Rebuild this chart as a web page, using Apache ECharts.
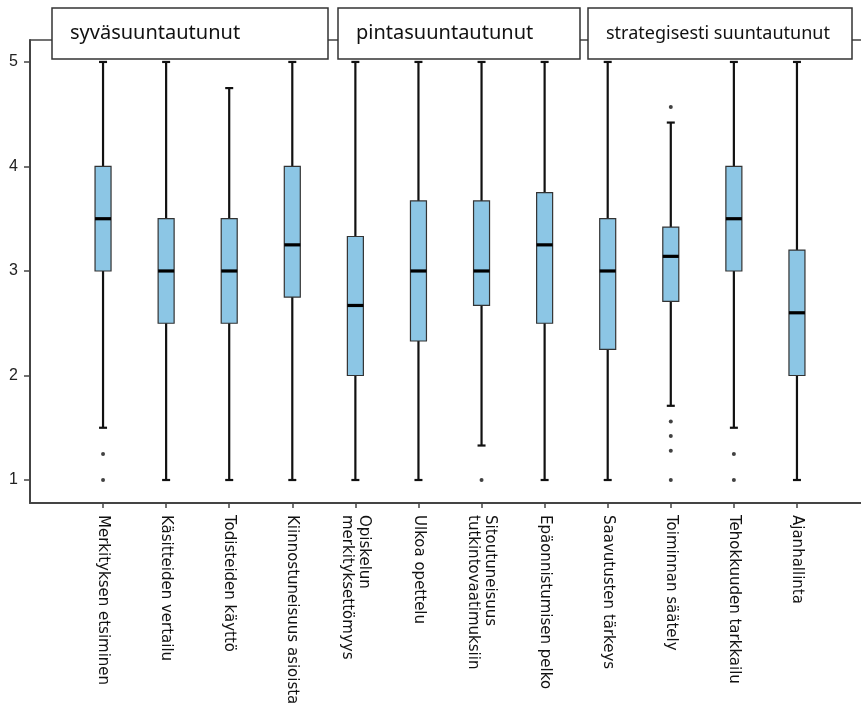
<!DOCTYPE html>
<html>
<head>
<meta charset="utf-8">
<script src="https://cdn.jsdelivr.net/npm/echarts@6/dist/echarts.min.js"></script>
<style>
  html, body { margin: 0; padding: 0; background: #fff; }
  #main { width: 861px; height: 723px; }
</style>
</head>
<body>
<div id="main"></div>
<script>
var categories = [
    'Merkityksen etsiminen',
    'Käsitteiden vertailu',
    'Todisteiden käyttö',
    'Kiinnostuneisuus asioista',
    'Opiskelun\nmerkityksettömyys',
    'Ulkoa opettelu',
    'Sitoutuneisuus\ntutkintovaatimuksiin',
    'Epäonnistumisen pelko',
    'Saavutusten tärkeys',
    'Toiminnan säätely',
    'Tehokkuuden tarkkailu',
    'Ajanhallinta'
];
var whiskerLow  = [1.5, 1,   1,    1,    1,    1,    1.33, 1,    1,    1.71, 1.5, 1];
var q1          = [3,   2.5, 2.5,  2.75, 2,    2.33, 2.67, 2.5,  2.25, 2.71, 3,   2];
var median      = [3.5, 3,   3,    3.25, 2.67, 3,    3,    3.25, 3,    3.14, 3.5, 2.6];
var q3          = [4,   3.5, 3.5,  4,    3.33, 3.67, 3.67, 3.75, 3.5,  3.42, 4,   3.2];
var whiskerHigh = [5,   5,   4.75, 5,    5,    5,    5,    5,    5,    4.42, 5,   5];
// [category index, value]
var outliers = [
    [0, 1.25], [0, 1],
    [6, 1],
    [9, 4.57], [9, 1.56], [9, 1.42], [9, 1.28], [9, 1],
    [10, 1.25], [10, 1]
];
var yTicks = [1, 2, 3, 4, 5];
var groups = ['syväsuuntautunut', 'pintasuuntautunut', 'strategisesti suuntautunut'];

var boxData = categories.map(function (c, i) {
    return [i, whiskerLow[i], q1[i], median[i], q3[i], whiskerHigh[i]];
});

var yMin = 0.78, yMax = 5.21;

function renderBox(params, api) {
    var i = api.value(0);
    var lo = api.coord([i, api.value(1)]);
    var b1 = api.coord([i, api.value(2)]);
    var md = api.coord([i, api.value(3)]);
    var b3 = api.coord([i, api.value(4)]);
    var hi = api.coord([i, api.value(5)]);
    var x = lo[0];
    var hw = 8, cw = 4;
    var ws = { stroke: '#111', lineWidth: 2.2 };
    return {
        type: 'group',
        children: [
            { type: 'line', shape: { x1: x, y1: hi[1], x2: x, y2: lo[1] }, style: ws },
            { type: 'line', shape: { x1: x - cw, y1: hi[1], x2: x + cw, y2: hi[1] }, style: ws },
            { type: 'line', shape: { x1: x - cw, y1: lo[1], x2: x + cw, y2: lo[1] }, style: ws },
            { type: 'rect', shape: { x: x - hw, y: b3[1], width: hw * 2, height: b1[1] - b3[1] },
              style: { fill: '#8cc6e5', stroke: '#333', lineWidth: 1.2 } },
            { type: 'line', shape: { x1: x - hw, y1: md[1], x2: x + hw, y2: md[1] },
              style: { stroke: '#000', lineWidth: 3.2 } }
        ]
    };
}

function header(x, w, text, size) {
    return {
        type: 'group',
        z: 100,
        children: [
            { type: 'rect', shape: { x: x, y: 8, width: w, height: 51 },
              style: { fill: '#fff', stroke: '#333', lineWidth: 1.5 }, z: 100 },
            { type: 'text', x: x + 18, y: 33.5, z: 101,
              style: { text: text, font: size + 'px "Noto Sans"', fill: '#111', verticalAlign: 'middle' } }
        ]
    };
}

var option = {
    backgroundColor: '#fff',
    animation: false,
    grid: [
        { left: 30, right: 0, top: 40, bottom: 220 },
        { left: 71.5, right: 32.5, top: 40, bottom: 220 }
    ],
    xAxis: [
        { type: 'value', gridIndex: 0, min: 0, max: 1, position: 'bottom',
          axisLine: { show: true, lineStyle: { color: '#444', width: 2 } },
          axisTick: { show: false }, axisLabel: { show: false }, splitLine: { show: false } },
        { type: 'value', gridIndex: 0, min: 0, max: 1, position: 'top',
          axisLine: { show: true, lineStyle: { color: '#444', width: 1.5 } },
          axisTick: { show: false }, axisLabel: { show: false }, splitLine: { show: false } },
        { type: 'category', gridIndex: 1, data: categories, position: 'bottom',
          axisLine: { show: false },
          axisTick: { show: true, alignWithLabel: true, length: 5, lineStyle: { color: '#444', width: 1.5 } },
          axisLabel: { interval: 0, rotate: -90, margin: 12, color: '#111',
                       fontFamily: 'DejaVu Sans', fontSize: 15, lineHeight: 17 },
          splitLine: { show: false } }
    ],
    yAxis: [
        { type: 'value', gridIndex: 0, min: yMin, max: yMax,
          axisLine: { show: true, lineStyle: { color: '#444', width: 2 } },
          axisTick: { show: true, length: 6, customValues: yTicks, lineStyle: { color: '#444', width: 1.5 } },
          axisLabel: { customValues: yTicks, margin: 12, color: '#222',
                       fontFamily: 'Liberation Sans', fontSize: 16 },
          splitLine: { show: false } },
        { type: 'value', gridIndex: 1, min: yMin, max: yMax, show: false, splitLine: { show: false } }
    ],
    series: [
        {
            type: 'custom',
            xAxisIndex: 2,
            yAxisIndex: 1,
            renderItem: renderBox,
            encode: { x: 0, y: [1, 2, 3, 4, 5] },
            data: boxData
        },
        {
            type: 'scatter',
            xAxisIndex: 2,
            yAxisIndex: 1,
            symbolSize: 4,
            itemStyle: { color: '#111' },
            data: outliers,
            z: 5
        }
    ],
    graphic: [
        header(52, 276, groups[0], 20),
        header(338, 242, groups[1], 20),
        header(588, 264, groups[2], 18)
    ]
};

var myChart = echarts.init(document.getElementById('main'));
myChart.setOption(option);
</script>
</body>
</html>
